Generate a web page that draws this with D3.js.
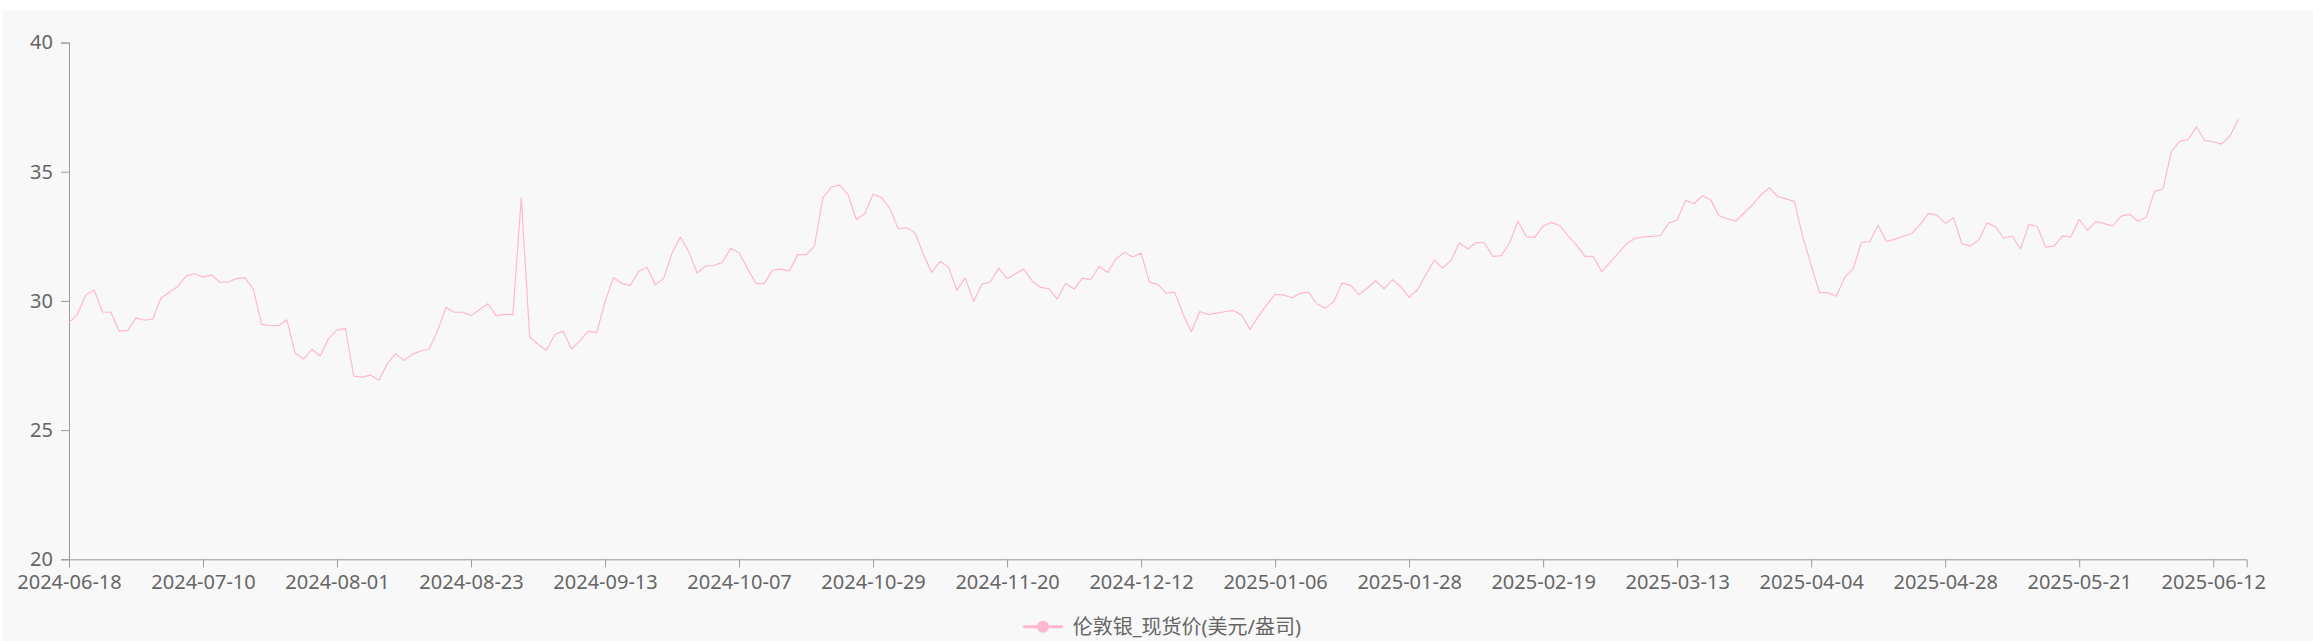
<!DOCTYPE html>
<html><head><meta charset="utf-8">
<script src="https://cdn.jsdelivr.net/npm/d3@7"></script>
<style>html,body{margin:0;padding:0;background:#fff;}svg{display:block;}</style>
</head><body>
<svg id="chart" width="2313" height="641"></svg>
<script>
const seriesName = "伦敦银_现货价(美元/盎司)";
const dates = [
"2024-06-18","2024-06-19","2024-06-20","2024-06-21","2024-06-24","2024-06-25","2024-06-26","2024-06-27","2024-06-28","2024-07-01","2024-07-02","2024-07-03","2024-07-04","2024-07-05","2024-07-08","2024-07-09","2024-07-10",
"2024-07-11","2024-07-12","2024-07-15","2024-07-16","2024-07-17","2024-07-18","2024-07-19","2024-07-22","2024-07-23","2024-07-24","2024-07-25","2024-07-26","2024-07-29","2024-07-30","2024-07-31","2024-08-01",
"2024-08-02","2024-08-05","2024-08-06","2024-08-07","2024-08-08","2024-08-09","2024-08-12","2024-08-13","2024-08-14","2024-08-15","2024-08-16","2024-08-19","2024-08-20","2024-08-21","2024-08-22","2024-08-23",
"2024-08-26","2024-08-27","2024-08-28","2024-08-29","2024-08-30","2024-08-31","2024-09-02","2024-09-03","2024-09-04","2024-09-05","2024-09-06","2024-09-09","2024-09-10","2024-09-11","2024-09-12","2024-09-13",
"2024-09-16","2024-09-17","2024-09-18","2024-09-19","2024-09-20","2024-09-23","2024-09-24","2024-09-25","2024-09-26","2024-09-27","2024-09-30","2024-10-01","2024-10-02","2024-10-03","2024-10-04","2024-10-07",
"2024-10-08","2024-10-09","2024-10-10","2024-10-11","2024-10-14","2024-10-15","2024-10-16","2024-10-17","2024-10-18","2024-10-21","2024-10-22","2024-10-23","2024-10-24","2024-10-25","2024-10-28","2024-10-29",
"2024-10-30","2024-10-31","2024-11-01","2024-11-04","2024-11-05","2024-11-06","2024-11-07","2024-11-08","2024-11-11","2024-11-12","2024-11-13","2024-11-14","2024-11-15","2024-11-18","2024-11-19","2024-11-20",
"2024-11-21","2024-11-22","2024-11-25","2024-11-26","2024-11-27","2024-11-28","2024-11-29","2024-12-02","2024-12-03","2024-12-04","2024-12-05","2024-12-06","2024-12-09","2024-12-10","2024-12-11","2024-12-12",
"2024-12-13","2024-12-16","2024-12-17","2024-12-18","2024-12-19","2024-12-20","2024-12-23","2024-12-24","2024-12-26","2024-12-27","2024-12-30","2024-12-31","2025-01-01","2025-01-02","2025-01-03","2025-01-06",
"2025-01-07","2025-01-08","2025-01-09","2025-01-10","2025-01-13","2025-01-14","2025-01-15","2025-01-16","2025-01-17","2025-01-20","2025-01-21","2025-01-22","2025-01-23","2025-01-24","2025-01-27","2025-01-28",
"2025-01-29","2025-01-30","2025-01-31","2025-02-03","2025-02-04","2025-02-05","2025-02-06","2025-02-07","2025-02-10","2025-02-11","2025-02-12","2025-02-13","2025-02-14","2025-02-17","2025-02-18","2025-02-19",
"2025-02-20","2025-02-21","2025-02-24","2025-02-25","2025-02-26","2025-02-27","2025-02-28","2025-03-03","2025-03-04","2025-03-05","2025-03-06","2025-03-07","2025-03-10","2025-03-11","2025-03-12","2025-03-13",
"2025-03-14","2025-03-17","2025-03-18","2025-03-19","2025-03-20","2025-03-21","2025-03-24","2025-03-25","2025-03-26","2025-03-27","2025-03-28","2025-03-31","2025-04-01","2025-04-02","2025-04-03","2025-04-04",
"2025-04-07","2025-04-08","2025-04-09","2025-04-10","2025-04-11","2025-04-14","2025-04-15","2025-04-16","2025-04-17","2025-04-18","2025-04-21","2025-04-22","2025-04-23","2025-04-24","2025-04-25","2025-04-28",
"2025-04-29","2025-04-30","2025-05-01","2025-05-02","2025-05-06","2025-05-07","2025-05-08","2025-05-09","2025-05-12","2025-05-13","2025-05-14","2025-05-15","2025-05-16","2025-05-19","2025-05-20","2025-05-21",
"2025-05-22","2025-05-23","2025-05-26","2025-05-27","2025-05-28","2025-05-29","2025-05-30","2025-06-02","2025-06-03","2025-06-04","2025-06-05","2025-06-06","2025-06-09","2025-06-10","2025-06-11","2025-06-12",
"2025-06-13","2025-06-16","2025-06-17","2025-06-18"
];
const prices = [
29.16,29.48,30.23,30.42,29.57,29.56,28.83,28.86,29.35,29.25,
29.30,30.12,30.33,30.57,30.97,31.05,30.92,31.01,30.72,30.73,
30.86,30.90,30.46,29.09,29.05,29.04,29.27,27.98,27.75,28.12,
27.87,28.55,28.87,28.94,27.09,27.05,27.13,26.93,27.57,27.96,
27.69,27.94,28.06,28.14,28.83,29.75,29.56,29.56,29.43,29.66,
29.89,29.43,29.48,29.47,34.00,28.60,28.32,28.09,28.70,28.83,
28.14,28.46,28.82,28.77,29.97,30.90,30.68,30.59,31.14,31.30,
30.63,30.87,31.85,32.47,31.90,31.08,31.35,31.37,31.49,32.04,
31.85,31.26,30.68,30.67,31.19,31.23,31.15,31.79,31.79,32.12,
33.99,34.40,34.49,34.12,33.15,33.37,34.13,34.00,33.58,32.79,
32.83,32.64,31.81,31.10,31.53,31.31,30.41,30.88,29.98,30.65,
30.73,31.27,30.86,31.05,31.23,30.77,30.52,30.47,30.07,30.68,
30.46,30.88,30.82,31.34,31.10,31.62,31.88,31.70,31.85,30.72,
30.64,30.30,30.34,29.49,28.81,29.59,29.47,29.53,29.58,29.63,
29.45,28.90,29.40,29.85,30.25,30.23,30.12,30.29,30.34,29.88,
29.72,29.97,30.69,30.61,30.25,30.50,30.78,30.47,30.82,30.56,
30.14,30.43,31.01,31.58,31.27,31.57,32.25,32.01,32.26,32.25,
31.72,31.75,32.25,33.08,32.48,32.46,32.90,33.04,32.91,32.52,
32.15,31.72,31.72,31.13,31.49,31.86,32.23,32.42,32.48,32.50,
32.53,33.01,33.13,33.89,33.76,34.07,33.91,33.30,33.18,33.09,
33.40,33.72,34.10,34.38,34.04,33.95,33.85,32.48,31.39,30.32,
30.32,30.18,30.91,31.23,32.26,32.29,32.93,32.30,32.39,32.50,
32.60,32.95,33.39,33.32,33.00,33.22,32.21,32.12,32.35,33.02,
32.87,32.43,32.51,32.01,32.96,32.88,32.08,32.12,32.51,32.48,
33.15,32.73,33.08,32.99,32.90,33.28,33.35,33.08,33.24,34.24,
34.33,35.78,36.17,36.24,36.74,36.20,36.16,36.07,36.38,37.03,
null
];
const xTickLabels = ["2024-06-18","2024-07-10","2024-08-01","2024-08-23","2024-09-13","2024-10-07","2024-10-29","2024-11-20","2024-12-12","2025-01-06","2025-01-28","2025-02-19","2025-03-13","2025-04-04","2025-04-28","2025-05-21","2025-06-12"];
const yTickValues = [20, 25, 30, 35, 40];

(function () {
  const W = 2313, H = 641;
  const plotLeft = 69, plotRight = 2246.7, plotTop = 42.5, plotBottom = 559.3;
  const lineColor = "#ffb8cf";
  const textColor = "#666";
  const axisColor = "#9a9a9a";
  const font = "'Noto Sans', 'Noto Sans CJK SC', sans-serif";

  const svg = d3.select("#chart");
  svg.append("rect").attr("x", 3).attr("y", 10).attr("width", W - 3).attr("height", H - 10).attr("fill", "#f8f8f8");

  const x = d3.scalePoint().domain(dates).range([plotLeft, plotRight]);
  const y = d3.scaleLinear().domain([20, 40]).range([plotBottom, plotTop]);

  const gy = svg.append("g").attr("transform", `translate(${plotLeft},0)`)
    .call(d3.axisLeft(y).tickValues(yTickValues).tickSize(8).tickPadding(8).tickFormat(d3.format("d")));
  gy.select(".domain").attr("stroke", axisColor);
  gy.selectAll(".tick line").attr("stroke", axisColor);
  gy.selectAll(".tick text").attr("fill", textColor).style("font-family", font).style("font-size", "20px");

  const gx = svg.append("g").attr("transform", `translate(0,${plotBottom})`)
    .call(d3.axisBottom(x).tickValues(xTickLabels).tickSize(8).tickPadding(8));
  gx.select(".domain").attr("stroke", axisColor);
  gx.selectAll(".tick line").attr("stroke", axisColor);
  gx.selectAll(".tick text").attr("fill", textColor).style("font-family", font).style("font-size", "20px");

  const data = dates.map((d, i) => ({date: d, v: prices[i]}));
  const line = d3.line().defined(d => d.v != null).x(d => x(d.date)).y(d => y(d.v));
  svg.append("path").datum(data).attr("d", line).attr("fill", "none")
    .attr("stroke", lineColor).attr("stroke-width", 1.2).attr("stroke-linejoin", "round");

  const lg = svg.append("g").attr("transform", "translate(1023.3,626.7)");
  lg.append("line").attr("x1", 0).attr("x2", 39.4).attr("y1", 0).attr("y2", 0).attr("stroke", lineColor).attr("stroke-width", 3);
  lg.append("circle").attr("cx", 19.7).attr("cy", 0).attr("r", 6).attr("fill", lineColor);
  lg.append("text").attr("x", 49.4).attr("y", 0).attr("dominant-baseline", "central")
    .attr("fill", textColor).style("font-family", font).style("font-size", "20px").text(seriesName);
})();
</script>
</body></html>
